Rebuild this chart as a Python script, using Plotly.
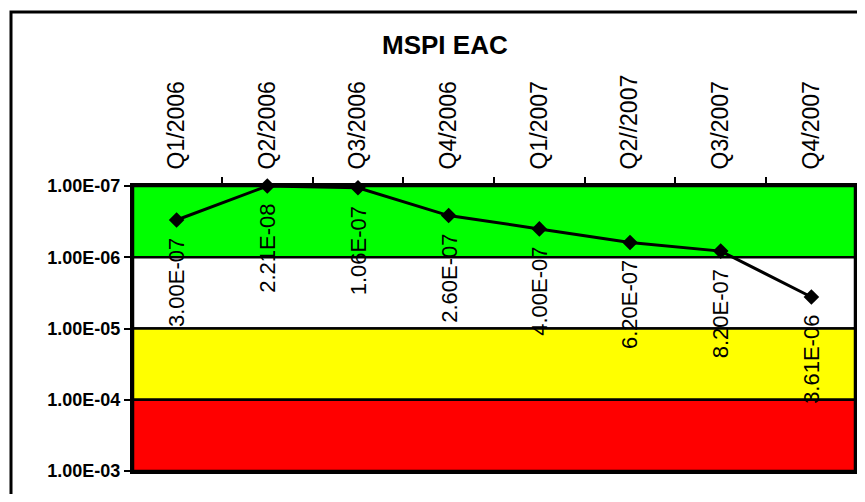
import math
import plotly.graph_objects as go

# ---- data ----
quarters = ["Q1/2006", "Q2/2006", "Q3/2006", "Q4/2006", "Q1/2007", "Q2//2007", "Q3/2007", "Q4/2007"]
mspi_values = [3.00e-07, 2.21e-08, 1.06e-07, 2.60e-07, 4.00e-07, 6.20e-07, 8.20e-07, 3.61e-06]
value_labels = ["3.00E-07", "2.21E-08", "1.06E-07", "2.60E-07", "4.00E-07", "6.20E-07", "8.20E-07", "3.61E-06"]
y_tick_values = [1e-07, 1e-06, 1e-05, 1e-04, 1e-03]
y_tick_labels = ["1.00E-07", "1.00E-06", "1.00E-05", "1.00E-04", "1.00E-03"]
band_edges = [1e-07, 1e-06, 1e-05, 1e-04, 1e-03]
band_colors = ["#00FF00", "#FFFFFF", "#FFFF00", "#FF0000"]

FONT = "Liberation Sans, Arial, sans-serif"
axis_min, axis_max = y_tick_values[0], y_tick_values[-1]
lo, hi = math.log10(axis_min), math.log10(axis_max)
# values beyond the axis are shown at the axis edge (as in the original chart)
plotted = [min(max(v, axis_min), axis_max) for v in mspi_values]


def frac(v):
    # position of a value inside the (reversed) log axis, as plot-area fraction
    return (hi - math.log10(v)) / (hi - lo)


fig = go.Figure()

fig.add_trace(go.Scatter(
    x=quarters, y=plotted, mode="lines+markers",
    line=dict(color="black", width=3),
    marker=dict(symbol="diamond", size=12, color="black"),
    cliponaxis=False, hoverinfo="skip", showlegend=False,
))

OFF = 8  # page body margin
W, H = 849, 486
L, R, T, B = 125, 2, 178, 23
pw, ph = W - L - R, H - T - B


def px_x(page_x):
    return (page_x - OFF - L) / pw


def px_y(page_y):
    return (H - B - (page_y - OFF)) / ph


shapes = []
for i, col in enumerate(band_colors):
    shapes.append(dict(
        type="rect", xref="paper", yref="paper", layer="below",
        x0=0, x1=1, y0=frac(band_edges[i]), y1=frac(band_edges[i + 1]),
        fillcolor=col, line=dict(color="black", width=2.5),
    ))
# outer chart frame (cropped at right/bottom)
shapes.append(dict(
    type="rect", xref="paper", yref="paper", layer="above",
    x0=px_x(11), x1=px_x(880), y0=px_y(520), y1=px_y(12),
    line=dict(color="black", width=3), fillcolor="rgba(0,0,0,0)",
))

annotations = []
for q, v, lab in zip(quarters, plotted, value_labels):
    annotations.append(dict(
        x=q, y=math.log10(v), xref="x", yref="y", text=lab, showarrow=False,
        textangle=-90, yanchor="top", xanchor="center", yshift=-16,
        font=dict(family=FONT, size=22, color="black"),
    ))
annotations.append(dict(
    x=px_x(445), y=px_y(45), xref="paper", yref="paper",
    text="<b>MSPI EAC</b>", showarrow=False, xanchor="center", yanchor="middle",
    font=dict(family=FONT, size=26, color="black"),
))

fig.update_layout(
    width=W, height=H,
    margin=dict(l=L, r=R, t=T, b=B),
    paper_bgcolor="white", plot_bgcolor="white",
    shapes=shapes, annotations=annotations,
    xaxis=dict(
        side="top", type="category", tickangle=-90, showgrid=False, zeroline=False,
        showline=True, linecolor="black", linewidth=3, mirror=True, automargin=False,
        ticks="outside", tickson="boundaries", ticklen=6, tickwidth=2, tickcolor="black",
        ticklabelstandoff=9,
        tickfont=dict(family=FONT, size=23, color="black"),
    ),
    yaxis=dict(
        type="log", range=[hi, lo], automargin=False,
        tickvals=y_tick_values, ticktext=["<b>%s</b>" % t for t in y_tick_labels],
        showgrid=False, zeroline=False,
        showline=True, linecolor="black", linewidth=3, mirror=True,
        ticks="outside", ticklen=6, tickwidth=2, tickcolor="black",
        tickfont=dict(family=FONT, size=18, color="black"),
    ),
)

fig.write_html("out.html")
